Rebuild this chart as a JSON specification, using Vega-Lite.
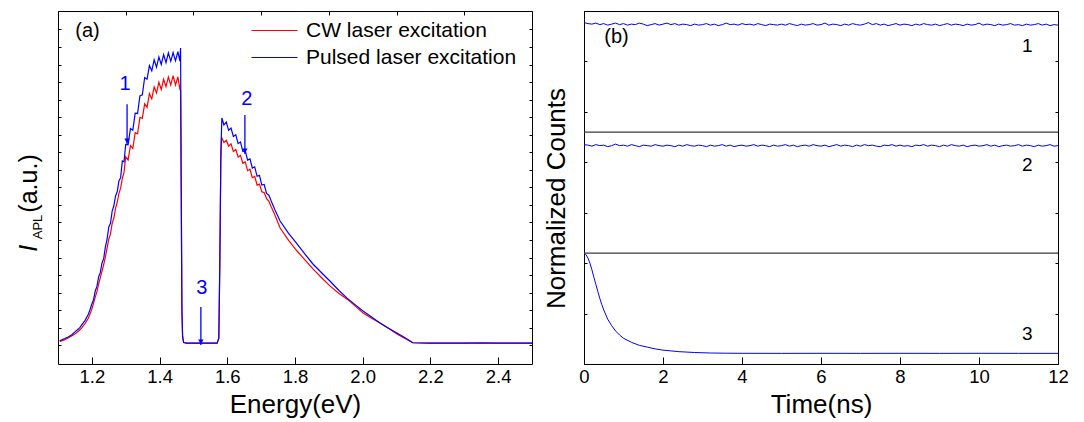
{
"$schema":"https://vega.github.io/schema/vega-lite/v6.json",
"background":"white",
"padding":{"left":16,"top":10,"right":10,"bottom":2},
"spacing":10,
"config":{"font":"Liberation Sans","view":{"stroke":"#000","strokeWidth":1},
"axis":{"grid":false,"domain":false,"labelColor":"#000","titleColor":"#000","titleFontWeight":"normal","labelFont":"Liberation Sans","titleFont":"Liberation Sans","tickColor":"#000","labelOverlap":false,"labelFlush":false}},
"datasets":{
"spec":[
{"s":"CW laser excitation","e":1.105,"v":0.22},{"s":"CW laser excitation","e":1.11,"v":0.25},{"s":"CW laser excitation","e":1.12,"v":0.32},{"s":"CW laser excitation","e":1.13,"v":0.41},{"s":"CW laser excitation","e":1.14,"v":0.52},{"s":"CW laser excitation","e":1.15,"v":0.64},{"s":"CW laser excitation","e":1.16,"v":0.8},{"s":"CW laser excitation","e":1.17,"v":0.99},{"s":"CW laser excitation","e":1.18,"v":1.25},{"s":"CW laser excitation","e":1.19,"v":1.55},{"s":"CW laser excitation","e":1.195,"v":1.8},{"s":"CW laser excitation","e":1.2,"v":2.06},{"s":"CW laser excitation","e":1.205,"v":2.4},{"s":"CW laser excitation","e":1.21,"v":2.74},{"s":"CW laser excitation","e":1.215,"v":3.05},{"s":"CW laser excitation","e":1.22,"v":3.48},{"s":"CW laser excitation","e":1.225,"v":3.85},{"s":"CW laser excitation","e":1.23,"v":4.22},{"s":"CW laser excitation","e":1.235,"v":4.6},{"s":"CW laser excitation","e":1.24,"v":5.03},{"s":"CW laser excitation","e":1.245,"v":5.55},{"s":"CW laser excitation","e":1.25,"v":6.05},{"s":"CW laser excitation","e":1.255,"v":6.35},{"s":"CW laser excitation","e":1.26,"v":6.95},{"s":"CW laser excitation","e":1.265,"v":7.25},{"s":"CW laser excitation","e":1.27,"v":7.8},{"s":"CW laser excitation","e":1.275,"v":8.15},{"s":"CW laser excitation","e":1.28,"v":8.66},{"s":"CW laser excitation","e":1.285,"v":8.95},{"s":"CW laser excitation","e":1.29,"v":9.51},{"s":"CW laser excitation","e":1.295,"v":9.85},
{"s":"CW laser excitation","e":1.3,"v":10.74},{"s":"CW laser excitation","e":1.307,"v":10.56},{"s":"CW laser excitation","e":1.314,"v":11.38},{"s":"CW laser excitation","e":1.321,"v":11.22},{"s":"CW laser excitation","e":1.328,"v":12.12},{"s":"CW laser excitation","e":1.335,"v":12.05},{"s":"CW laser excitation","e":1.342,"v":12.99},{"s":"CW laser excitation","e":1.349,"v":12.93},{"s":"CW laser excitation","e":1.356,"v":13.76},{"s":"CW laser excitation","e":1.363,"v":13.56},{"s":"CW laser excitation","e":1.37,"v":14.34},{"s":"CW laser excitation","e":1.377,"v":14.04},{"s":"CW laser excitation","e":1.384,"v":14.72},{"s":"CW laser excitation","e":1.391,"v":14.38},{"s":"CW laser excitation","e":1.398,"v":14.99},{"s":"CW laser excitation","e":1.405,"v":14.58},{"s":"CW laser excitation","e":1.412,"v":15.16},{"s":"CW laser excitation","e":1.419,"v":14.74},{"s":"CW laser excitation","e":1.426,"v":15.29},{"s":"CW laser excitation","e":1.433,"v":14.83},{"s":"CW laser excitation","e":1.44,"v":15.37},{"s":"CW laser excitation","e":1.447,"v":14.83},{"s":"CW laser excitation","e":1.454,"v":15.29},{"s":"CW laser excitation","e":1.46,"v":14.6},{"s":"CW laser excitation","e":1.462,"v":14.5},{"s":"CW laser excitation","e":1.464,"v":8.5},{"s":"CW laser excitation","e":1.466,"v":2},{"s":"CW laser excitation","e":1.468,"v":0.5},{"s":"CW laser excitation","e":1.471,"v":0.15},{"s":"CW laser excitation","e":1.48,"v":0.12},{"s":"CW laser excitation","e":1.51,"v":0.12},{"s":"CW laser excitation","e":1.54,"v":0.12},{"s":"CW laser excitation","e":1.57,"v":0.12},{"s":"CW laser excitation","e":1.575,"v":0.4},{"s":"CW laser excitation","e":1.578,"v":4.5},{"s":"CW laser excitation","e":1.581,"v":10.5},{"s":"CW laser excitation","e":1.583,"v":11.85},
{"s":"CW laser excitation","e":1.59,"v":11.55},{"s":"CW laser excitation","e":1.597,"v":11.68},{"s":"CW laser excitation","e":1.604,"v":11.35},{"s":"CW laser excitation","e":1.611,"v":11.48},{"s":"CW laser excitation","e":1.618,"v":11.05},{"s":"CW laser excitation","e":1.625,"v":11.16},{"s":"CW laser excitation","e":1.632,"v":10.73},{"s":"CW laser excitation","e":1.639,"v":10.82},{"s":"CW laser excitation","e":1.646,"v":10.37},{"s":"CW laser excitation","e":1.653,"v":10.45},{"s":"CW laser excitation","e":1.66,"v":9.95},{"s":"CW laser excitation","e":1.667,"v":10.03},{"s":"CW laser excitation","e":1.674,"v":9.55},{"s":"CW laser excitation","e":1.681,"v":9.62},{"s":"CW laser excitation","e":1.688,"v":9.12},{"s":"CW laser excitation","e":1.695,"v":9.18},{"s":"CW laser excitation","e":1.702,"v":8.75},{"s":"CW laser excitation","e":1.709,"v":8.7},{"s":"CW laser excitation","e":1.716,"v":8.35},{"s":"CW laser excitation","e":1.723,"v":8.2},{"s":"CW laser excitation","e":1.73,"v":7.88},{"s":"CW laser excitation","e":1.74,"v":7.45},{"s":"CW laser excitation","e":1.756,"v":6.68},{"s":"CW laser excitation","e":1.78,"v":6},{"s":"CW laser excitation","e":1.806,"v":5.37},{"s":"CW laser excitation","e":1.83,"v":4.85},{"s":"CW laser excitation","e":1.853,"v":4.35},{"s":"CW laser excitation","e":1.88,"v":3.82},{"s":"CW laser excitation","e":1.903,"v":3.38},{"s":"CW laser excitation","e":1.93,"v":2.95},{"s":"CW laser excitation","e":1.953,"v":2.64},{"s":"CW laser excitation","e":1.98,"v":2.2},{"s":"CW laser excitation","e":2.001,"v":1.84},{"s":"CW laser excitation","e":2.025,"v":1.55},{"s":"CW laser excitation","e":2.051,"v":1.27},{"s":"CW laser excitation","e":2.075,"v":0.98},{"s":"CW laser excitation","e":2.101,"v":0.64},{"s":"CW laser excitation","e":2.125,"v":0.38},{"s":"CW laser excitation","e":2.148,"v":0.14},{"s":"CW laser excitation","e":2.2,"v":0.12},{"s":"CW laser excitation","e":2.3,"v":0.12},{"s":"CW laser excitation","e":2.35,"v":0.14},{"s":"CW laser excitation","e":2.4,"v":0.12},{"s":"CW laser excitation","e":2.5,"v":0.12},
{"s":"Pulsed laser excitation","e":1.105,"v":0.25},{"s":"Pulsed laser excitation","e":1.11,"v":0.3},{"s":"Pulsed laser excitation","e":1.12,"v":0.38},{"s":"Pulsed laser excitation","e":1.13,"v":0.47},{"s":"Pulsed laser excitation","e":1.14,"v":0.58},{"s":"Pulsed laser excitation","e":1.15,"v":0.76},{"s":"Pulsed laser excitation","e":1.16,"v":0.92},{"s":"Pulsed laser excitation","e":1.165,"v":1.02},{"s":"Pulsed laser excitation","e":1.17,"v":1.16},{"s":"Pulsed laser excitation","e":1.18,"v":1.42},{"s":"Pulsed laser excitation","e":1.19,"v":1.78},{"s":"Pulsed laser excitation","e":1.195,"v":2.05},{"s":"Pulsed laser excitation","e":1.2,"v":2.35},{"s":"Pulsed laser excitation","e":1.205,"v":2.6},{"s":"Pulsed laser excitation","e":1.21,"v":3.09},{"s":"Pulsed laser excitation","e":1.215,"v":3.35},{"s":"Pulsed laser excitation","e":1.22,"v":3.89},{"s":"Pulsed laser excitation","e":1.225,"v":4.15},{"s":"Pulsed laser excitation","e":1.23,"v":4.69},{"s":"Pulsed laser excitation","e":1.235,"v":4.95},{"s":"Pulsed laser excitation","e":1.24,"v":5.6},{"s":"Pulsed laser excitation","e":1.245,"v":6.05},{"s":"Pulsed laser excitation","e":1.25,"v":6.74},{"s":"Pulsed laser excitation","e":1.255,"v":6.95},{"s":"Pulsed laser excitation","e":1.26,"v":7.65},{"s":"Pulsed laser excitation","e":1.265,"v":7.95},{"s":"Pulsed laser excitation","e":1.27,"v":8.51},{"s":"Pulsed laser excitation","e":1.275,"v":8.75},{"s":"Pulsed laser excitation","e":1.28,"v":9.36},{"s":"Pulsed laser excitation","e":1.285,"v":9.55},{"s":"Pulsed laser excitation","e":1.29,"v":10.5},{"s":"Pulsed laser excitation","e":1.295,"v":10.45},
{"s":"Pulsed laser excitation","e":1.3,"v":11.44},{"s":"Pulsed laser excitation","e":1.307,"v":11.42},{"s":"Pulsed laser excitation","e":1.314,"v":12.35},{"s":"Pulsed laser excitation","e":1.321,"v":12.26},{"s":"Pulsed laser excitation","e":1.328,"v":13.23},{"s":"Pulsed laser excitation","e":1.335,"v":13.21},{"s":"Pulsed laser excitation","e":1.342,"v":14.21},{"s":"Pulsed laser excitation","e":1.349,"v":14.27},{"s":"Pulsed laser excitation","e":1.356,"v":15.26},{"s":"Pulsed laser excitation","e":1.363,"v":15.16},{"s":"Pulsed laser excitation","e":1.37,"v":15.94},{"s":"Pulsed laser excitation","e":1.377,"v":15.64},{"s":"Pulsed laser excitation","e":1.384,"v":16.27},{"s":"Pulsed laser excitation","e":1.391,"v":15.85},{"s":"Pulsed laser excitation","e":1.398,"v":16.43},{"s":"Pulsed laser excitation","e":1.405,"v":16},{"s":"Pulsed laser excitation","e":1.412,"v":16.57},{"s":"Pulsed laser excitation","e":1.419,"v":16.11},{"s":"Pulsed laser excitation","e":1.426,"v":16.66},{"s":"Pulsed laser excitation","e":1.433,"v":16.18},{"s":"Pulsed laser excitation","e":1.44,"v":16.68},{"s":"Pulsed laser excitation","e":1.447,"v":16.21},{"s":"Pulsed laser excitation","e":1.454,"v":16.73},{"s":"Pulsed laser excitation","e":1.46,"v":16.2},{"s":"Pulsed laser excitation","e":1.462,"v":16.94},{"s":"Pulsed laser excitation","e":1.464,"v":9},{"s":"Pulsed laser excitation","e":1.466,"v":2},{"s":"Pulsed laser excitation","e":1.468,"v":0.5},{"s":"Pulsed laser excitation","e":1.471,"v":0.15},{"s":"Pulsed laser excitation","e":1.48,"v":0.12},{"s":"Pulsed laser excitation","e":1.51,"v":0.12},{"s":"Pulsed laser excitation","e":1.54,"v":0.12},{"s":"Pulsed laser excitation","e":1.57,"v":0.12},{"s":"Pulsed laser excitation","e":1.575,"v":0.4},{"s":"Pulsed laser excitation","e":1.578,"v":5},{"s":"Pulsed laser excitation","e":1.581,"v":11},{"s":"Pulsed laser excitation","e":1.584,"v":12.95},
{"s":"Pulsed laser excitation","e":1.59,"v":12.55},{"s":"Pulsed laser excitation","e":1.597,"v":12.72},{"s":"Pulsed laser excitation","e":1.604,"v":12.25},{"s":"Pulsed laser excitation","e":1.611,"v":12.38},{"s":"Pulsed laser excitation","e":1.618,"v":11.9},{"s":"Pulsed laser excitation","e":1.625,"v":12},{"s":"Pulsed laser excitation","e":1.632,"v":11.49},{"s":"Pulsed laser excitation","e":1.639,"v":11.58},{"s":"Pulsed laser excitation","e":1.646,"v":11.04},{"s":"Pulsed laser excitation","e":1.653,"v":11.09},{"s":"Pulsed laser excitation","e":1.66,"v":10.55},{"s":"Pulsed laser excitation","e":1.667,"v":10.62},{"s":"Pulsed laser excitation","e":1.674,"v":10.1},{"s":"Pulsed laser excitation","e":1.681,"v":10.17},{"s":"Pulsed laser excitation","e":1.688,"v":9.63},{"s":"Pulsed laser excitation","e":1.695,"v":9.68},{"s":"Pulsed laser excitation","e":1.702,"v":9.13},{"s":"Pulsed laser excitation","e":1.709,"v":9.16},{"s":"Pulsed laser excitation","e":1.716,"v":8.65},{"s":"Pulsed laser excitation","e":1.723,"v":8.55},{"s":"Pulsed laser excitation","e":1.73,"v":8.2},{"s":"Pulsed laser excitation","e":1.74,"v":7.75},{"s":"Pulsed laser excitation","e":1.756,"v":7.08},{"s":"Pulsed laser excitation","e":1.78,"v":6.4},{"s":"Pulsed laser excitation","e":1.806,"v":5.77},{"s":"Pulsed laser excitation","e":1.83,"v":5.18},{"s":"Pulsed laser excitation","e":1.853,"v":4.63},{"s":"Pulsed laser excitation","e":1.88,"v":4.1},{"s":"Pulsed laser excitation","e":1.903,"v":3.66},{"s":"Pulsed laser excitation","e":1.93,"v":3.12},{"s":"Pulsed laser excitation","e":1.953,"v":2.7},{"s":"Pulsed laser excitation","e":1.98,"v":2.27},{"s":"Pulsed laser excitation","e":2.001,"v":1.95},{"s":"Pulsed laser excitation","e":2.025,"v":1.62},{"s":"Pulsed laser excitation","e":2.051,"v":1.27},{"s":"Pulsed laser excitation","e":2.075,"v":0.98},{"s":"Pulsed laser excitation","e":2.101,"v":0.7},{"s":"Pulsed laser excitation","e":2.125,"v":0.42},{"s":"Pulsed laser excitation","e":2.148,"v":0.14},{"s":"Pulsed laser excitation","e":2.2,"v":0.12},{"s":"Pulsed laser excitation","e":2.3,"v":0.12},{"s":"Pulsed laser excitation","e":2.4,"v":0.12},{"s":"Pulsed laser excitation","e":2.5,"v":0.12}
],
"arrows":[{"n":"1","e":1.304,"top":13.74,"bot":11.47},{"n":"2","e":1.652,"top":13.12,"bot":10.9},{"n":"3","e":1.522,"top":2.18,"bot":0.02}],
"annL":[{"n":"1","e":1.298,"v":14.9},{"n":"2","e":1.658,"v":14.03},{"n":"3","e":1.525,"v":3.27}],
"decay":[
{"k":"1","t":0,"c":6.77},{"k":"1","t":0.1,"c":6.75},{"k":"1","t":0.2,"c":6.74},{"k":"1","t":0.3,"c":6.76},{"k":"1","t":0.4,"c":6.73},{"k":"1","t":0.5,"c":6.75},{"k":"1","t":0.6,"c":6.72},{"k":"1","t":0.7,"c":6.74},{"k":"1","t":0.8,"c":6.76},{"k":"1","t":0.9,"c":6.73},
{"k":"1","t":1,"c":6.75},{"k":"1","t":1.1,"c":6.72},{"k":"1","t":1.2,"c":6.74},{"k":"1","t":1.3,"c":6.73},{"k":"1","t":1.4,"c":6.76},{"k":"1","t":1.5,"c":6.74},{"k":"1","t":1.6,"c":6.71},{"k":"1","t":1.7,"c":6.73},{"k":"1","t":1.8,"c":6.75},{"k":"1","t":1.9,"c":6.72},
{"k":"1","t":2,"c":6.74},{"k":"1","t":2.1,"c":6.76},{"k":"1","t":2.2,"c":6.73},{"k":"1","t":2.3,"c":6.75},{"k":"1","t":2.4,"c":6.72},{"k":"1","t":2.5,"c":6.74},{"k":"1","t":2.6,"c":6.73},{"k":"1","t":2.7,"c":6.71},{"k":"1","t":2.8,"c":6.74},{"k":"1","t":2.9,"c":6.72},
{"k":"1","t":3,"c":6.73},{"k":"1","t":3.1,"c":6.75},{"k":"1","t":3.2,"c":6.72},{"k":"1","t":3.3,"c":6.74},{"k":"1","t":3.4,"c":6.71},{"k":"1","t":3.5,"c":6.73},{"k":"1","t":3.6,"c":6.76},{"k":"1","t":3.7,"c":6.73},{"k":"1","t":3.8,"c":6.74},{"k":"1","t":3.9,"c":6.72},
{"k":"1","t":4,"c":6.75},{"k":"1","t":4.1,"c":6.73},{"k":"1","t":4.2,"c":6.74},{"k":"1","t":4.3,"c":6.72},{"k":"1","t":4.4,"c":6.75},{"k":"1","t":4.5,"c":6.73},{"k":"1","t":4.6,"c":6.71},{"k":"1","t":4.7,"c":6.74},{"k":"1","t":4.8,"c":6.73},{"k":"1","t":4.9,"c":6.72},
{"k":"1","t":5,"c":6.74},{"k":"1","t":5.1,"c":6.72},{"k":"1","t":5.2,"c":6.75},{"k":"1","t":5.3,"c":6.73},{"k":"1","t":5.4,"c":6.71},{"k":"1","t":5.5,"c":6.74},{"k":"1","t":5.6,"c":6.72},{"k":"1","t":5.7,"c":6.73},{"k":"1","t":5.8,"c":6.75},{"k":"1","t":5.9,"c":6.72},
{"k":"1","t":6,"c":6.73},{"k":"1","t":6.1,"c":6.76},{"k":"1","t":6.2,"c":6.72},{"k":"1","t":6.3,"c":6.74},{"k":"1","t":6.4,"c":6.73},{"k":"1","t":6.5,"c":6.71},{"k":"1","t":6.6,"c":6.74},{"k":"1","t":6.7,"c":6.72},{"k":"1","t":6.8,"c":6.75},{"k":"1","t":6.9,"c":6.73},
{"k":"1","t":7,"c":6.72},{"k":"1","t":7.1,"c":6.74},{"k":"1","t":7.2,"c":6.77},{"k":"1","t":7.3,"c":6.73},{"k":"1","t":7.4,"c":6.75},{"k":"1","t":7.5,"c":6.72},{"k":"1","t":7.6,"c":6.74},{"k":"1","t":7.7,"c":6.71},{"k":"1","t":7.8,"c":6.73},{"k":"1","t":7.9,"c":6.75},
{"k":"1","t":8,"c":6.72},{"k":"1","t":8.1,"c":6.74},{"k":"1","t":8.2,"c":6.73},{"k":"1","t":8.3,"c":6.71},{"k":"1","t":8.4,"c":6.74},{"k":"1","t":8.5,"c":6.72},{"k":"1","t":8.6,"c":6.75},{"k":"1","t":8.7,"c":6.73},{"k":"1","t":8.8,"c":6.72},{"k":"1","t":8.9,"c":6.74},
{"k":"1","t":9,"c":6.71},{"k":"1","t":9.1,"c":6.73},{"k":"1","t":9.2,"c":6.75},{"k":"1","t":9.3,"c":6.72},{"k":"1","t":9.4,"c":6.74},{"k":"1","t":9.5,"c":6.73},{"k":"1","t":9.6,"c":6.71},{"k":"1","t":9.7,"c":6.74},{"k":"1","t":9.8,"c":6.72},{"k":"1","t":9.9,"c":6.73},
{"k":"1","t":10,"c":6.76},{"k":"1","t":10.1,"c":6.72},{"k":"1","t":10.2,"c":6.74},{"k":"1","t":10.3,"c":6.73},{"k":"1","t":10.4,"c":6.71},{"k":"1","t":10.5,"c":6.74},{"k":"1","t":10.6,"c":6.72},{"k":"1","t":10.7,"c":6.73},{"k":"1","t":10.8,"c":6.75},{"k":"1","t":10.9,"c":6.72},
{"k":"1","t":11,"c":6.73},{"k":"1","t":11.1,"c":6.71},{"k":"1","t":11.2,"c":6.74},{"k":"1","t":11.3,"c":6.72},{"k":"1","t":11.4,"c":6.73},{"k":"1","t":11.5,"c":6.75},{"k":"1","t":11.6,"c":6.72},{"k":"1","t":11.7,"c":6.74},{"k":"1","t":11.8,"c":6.71},{"k":"1","t":11.9,"c":6.73},{"k":"1","t":12,"c":6.72},
{"k":"2","t":0,"c":4.35},{"k":"2","t":0.1,"c":4.34},{"k":"2","t":0.2,"c":4.32},{"k":"2","t":0.3,"c":4.35},{"k":"2","t":0.4,"c":4.33},{"k":"2","t":0.5,"c":4.34},{"k":"2","t":0.6,"c":4.31},{"k":"2","t":0.7,"c":4.33},{"k":"2","t":0.8,"c":4.36},{"k":"2","t":0.9,"c":4.33},
{"k":"2","t":1,"c":4.34},{"k":"2","t":1.1,"c":4.32},{"k":"2","t":1.2,"c":4.35},{"k":"2","t":1.3,"c":4.33},{"k":"2","t":1.4,"c":4.31},{"k":"2","t":1.5,"c":4.34},{"k":"2","t":1.6,"c":4.33},{"k":"2","t":1.7,"c":4.32},{"k":"2","t":1.8,"c":4.35},{"k":"2","t":1.9,"c":4.33},
{"k":"2","t":2,"c":4.32},{"k":"2","t":2.1,"c":4.34},{"k":"2","t":2.2,"c":4.33},{"k":"2","t":2.3,"c":4.31},{"k":"2","t":2.4,"c":4.34},{"k":"2","t":2.5,"c":4.32},{"k":"2","t":2.6,"c":4.35},{"k":"2","t":2.7,"c":4.33},{"k":"2","t":2.8,"c":4.32},{"k":"2","t":2.9,"c":4.34},
{"k":"2","t":3,"c":4.33},{"k":"2","t":3.1,"c":4.31},{"k":"2","t":3.2,"c":4.34},{"k":"2","t":3.3,"c":4.32},{"k":"2","t":3.4,"c":4.33},{"k":"2","t":3.5,"c":4.35},{"k":"2","t":3.6,"c":4.32},{"k":"2","t":3.7,"c":4.34},{"k":"2","t":3.8,"c":4.31},{"k":"2","t":3.9,"c":4.33},
{"k":"2","t":4,"c":4.34},{"k":"2","t":4.1,"c":4.32},{"k":"2","t":4.2,"c":4.33},{"k":"2","t":4.3,"c":4.35},{"k":"2","t":4.4,"c":4.32},{"k":"2","t":4.5,"c":4.34},{"k":"2","t":4.6,"c":4.33},{"k":"2","t":4.7,"c":4.31},{"k":"2","t":4.8,"c":4.34},{"k":"2","t":4.9,"c":4.32},
{"k":"2","t":5,"c":4.33},{"k":"2","t":5.1,"c":4.35},{"k":"2","t":5.2,"c":4.32},{"k":"2","t":5.3,"c":4.34},{"k":"2","t":5.4,"c":4.31},{"k":"2","t":5.5,"c":4.33},{"k":"2","t":5.6,"c":4.34},{"k":"2","t":5.7,"c":4.32},{"k":"2","t":5.8,"c":4.35},{"k":"2","t":5.9,"c":4.33},
{"k":"2","t":6,"c":4.32},{"k":"2","t":6.1,"c":4.34},{"k":"2","t":6.2,"c":4.31},{"k":"2","t":6.3,"c":4.33},{"k":"2","t":6.4,"c":4.35},{"k":"2","t":6.5,"c":4.32},{"k":"2","t":6.6,"c":4.34},{"k":"2","t":6.7,"c":4.33},{"k":"2","t":6.8,"c":4.31},{"k":"2","t":6.9,"c":4.34},
{"k":"2","t":7,"c":4.32},{"k":"2","t":7.1,"c":4.35},{"k":"2","t":7.2,"c":4.33},{"k":"2","t":7.3,"c":4.34},{"k":"2","t":7.4,"c":4.32},{"k":"2","t":7.5,"c":4.31},{"k":"2","t":7.6,"c":4.34},{"k":"2","t":7.7,"c":4.33},{"k":"2","t":7.8,"c":4.35},{"k":"2","t":7.9,"c":4.32},
{"k":"2","t":8,"c":4.34},{"k":"2","t":8.1,"c":4.32},{"k":"2","t":8.2,"c":4.33},{"k":"2","t":8.3,"c":4.31},{"k":"2","t":8.4,"c":4.34},{"k":"2","t":8.5,"c":4.33},{"k":"2","t":8.6,"c":4.35},{"k":"2","t":8.7,"c":4.32},{"k":"2","t":8.8,"c":4.34},{"k":"2","t":8.9,"c":4.33},
{"k":"2","t":9,"c":4.31},{"k":"2","t":9.1,"c":4.34},{"k":"2","t":9.2,"c":4.32},{"k":"2","t":9.3,"c":4.35},{"k":"2","t":9.4,"c":4.33},{"k":"2","t":9.5,"c":4.32},{"k":"2","t":9.6,"c":4.34},{"k":"2","t":9.7,"c":4.31},{"k":"2","t":9.8,"c":4.33},{"k":"2","t":9.9,"c":4.34},
{"k":"2","t":10,"c":4.32},{"k":"2","t":10.1,"c":4.33},{"k":"2","t":10.2,"c":4.35},{"k":"2","t":10.3,"c":4.32},{"k":"2","t":10.4,"c":4.34},{"k":"2","t":10.5,"c":4.31},{"k":"2","t":10.6,"c":4.33},{"k":"2","t":10.7,"c":4.34},{"k":"2","t":10.8,"c":4.32},{"k":"2","t":10.9,"c":4.33},
{"k":"2","t":11,"c":4.35},{"k":"2","t":11.1,"c":4.32},{"k":"2","t":11.2,"c":4.34},{"k":"2","t":11.3,"c":4.33},{"k":"2","t":11.4,"c":4.31},{"k":"2","t":11.5,"c":4.34},{"k":"2","t":11.6,"c":4.32},{"k":"2","t":11.7,"c":4.33},{"k":"2","t":11.8,"c":4.35},{"k":"2","t":11.9,"c":4.32},{"k":"2","t":12,"c":4.33},
{"k":"3","t":0,"c":2.2},{"k":"3","t":0.05,"c":2.17},{"k":"3","t":0.1,"c":2.1},{"k":"3","t":0.15,"c":2.0},{"k":"3","t":0.2,"c":1.87},{"k":"3","t":0.25,"c":1.72},{"k":"3","t":0.3,"c":1.58},{"k":"3","t":0.35,"c":1.44},{"k":"3","t":0.4,"c":1.3},{"k":"3","t":0.45,"c":1.18},{"k":"3","t":0.5,"c":1.07},{"k":"3","t":0.6,"c":0.89},{"k":"3","t":0.7,"c":0.76},{"k":"3","t":0.8,"c":0.655},{"k":"3","t":0.9,"c":0.575},{"k":"3","t":1,"c":0.51},{"k":"3","t":1.2,"c":0.43},{"k":"3","t":1.4,"c":0.37},{"k":"3","t":1.6,"c":0.335},{"k":"3","t":1.8,"c":0.3},{"k":"3","t":2,"c":0.275},{"k":"3","t":2.4,"c":0.245},{"k":"3","t":2.8,"c":0.228},{"k":"3","t":3.2,"c":0.218},{"k":"3","t":3.6,"c":0.214},{"k":"3","t":4,"c":0.212},{"k":"3","t":5,"c":0.211},{"k":"3","t":6,"c":0.212},{"k":"3","t":7,"c":0.211},{"k":"3","t":8,"c":0.212},{"k":"3","t":9,"c":0.211},{"k":"3","t":10,"c":0.212},{"k":"3","t":11,"c":0.211},{"k":"3","t":12,"c":0.211}
],
"sep":[{"y":4.6},{"y":2.2}],
"annR":[{"n":"1","t":11.22,"c":6.31},{"n":"2","t":11.22,"c":3.95},{"n":"3","t":11.22,"c":0.6}]
},
"hconcat":[
{"width":474,"height":353,
"resolve":{"axis":{"y":"independent","x":"independent"}},
"layer":[
{"data":{"name":"spec"},"mark":{"type":"line","strokeWidth":1.2,"clip":true},
"encoding":{
"x":{"field":"e","type":"quantitative","scale":{"domain":[1.1,2.5],"nice":false,"zero":false},
"axis":{"values":[1.2,1.4,1.6,1.8,2.0,2.2,2.4],"format":".1f","tickSize":-7,"labelFontSize":18.5,"labelPadding":10,"title":"Energy(eV)","titleFontSize":26,"titlePadding":6}},
"y":{"field":"v","type":"quantitative","scale":{"domain":[-1.07,19.05],"nice":false,"zero":false},"axis":{"values":[0,1,2,3,4,5,6,7,8,9,10,11,12,13,14,15,16,17,18],"labels":false,"tickSize":-3,"title":null}},
"color":{"field":"s","type":"nominal","scale":{"domain":["CW laser excitation","Pulsed laser excitation"],"range":["#ff0000","#0000ff"]},
"legend":{"orient":"none","legendX":206,"legendY":9,"title":null,"symbolType":"M-4.6,0H4.6","symbolSize":100,"symbolStrokeWidth":1.2,"labelFontSize":21,"labelFont":"Liberation Sans","labelColor":"#000","labelOffset":21,"rowPadding":5,"padding":0,"labelLimit":400}}}},
{"data":{"name":"arrows"},"mark":{"type":"rule","color":"#0000ff","strokeWidth":1.3},
"encoding":{"x":{"field":"e","type":"quantitative","axis":{"values":[1.1,1.3,1.5,1.7,1.9,2.1,2.3,2.5],"labels":false,"tickSize":-4,"title":null}},"y":{"field":"top","type":"quantitative","axis":{"orient":"right","values":[0,1,2,3,4,5,6,7,8,9,10,11,12,13,14,15,16,17,18],"labels":false,"tickSize":-3,"title":null}},"y2":{"field":"bot"}}},
{"data":{"name":"arrows"},"mark":{"type":"point","shape":"triangle-down","filled":true,"size":30,"color":"#0000ff","opacity":1,"yOffset":-3},
"encoding":{"x":{"field":"e","type":"quantitative","axis":null},"y":{"field":"bot","type":"quantitative","axis":null}}},
{"data":{"name":"annL"},"mark":{"type":"text","color":"#0000ff","fontSize":20,"align":"center","baseline":"middle"},
"encoding":{"x":{"field":"e","type":"quantitative","axis":null},"y":{"field":"v","type":"quantitative","axis":null},"text":{"field":"n"}}},
{"data":{"values":[{}]},"mark":{"type":"text","text":"(a)","fontSize":20,"color":"#000","align":"center","baseline":"middle"},
"encoding":{"x":{"datum":1.187,"axis":null},"y":{"datum":17.91,"axis":null}}},
{"data":{"values":[{}]},"mark":{"type":"text","text":"(a.u.)","fontSize":25,"color":"#000","angle":270,"align":"center","baseline":"middle"},
"encoding":{"x":{"datum":1.0144,"axis":null},"y":{"datum":9.22,"axis":null}}},
{"data":{"values":[{}]},"mark":{"type":"text","text":"I","fontSize":25,"fontStyle":"italic","color":"#000","angle":270,"align":"center","baseline":"middle"},
"encoding":{"x":{"datum":1.0144,"axis":null},"y":{"datum":5.52,"axis":null}}},
{"data":{"values":[{}]},"mark":{"type":"text","text":"APL","fontSize":13,"color":"#000","angle":270,"align":"center","baseline":"middle"},
"encoding":{"x":{"datum":1.041,"axis":null},"y":{"datum":6.74,"axis":null}}}
]},
{"width":474,"height":353,
"resolve":{"axis":{"y":"independent"}},
"layer":[
{"data":{"name":"decay"},"mark":{"type":"line","strokeWidth":1,"color":"#0000ff","clip":true},
"encoding":{
"x":{"field":"t","type":"quantitative","scale":{"domain":[0,12],"nice":false,"zero":false},
"axis":{"values":[0,1,2,3,4,5,6,7,8,9,10,11,12],"format":"d","labelExpr":"datum.value%2==0 ? datum.label : ''","tickSize":{"condition":{"test":"datum.value%2==0","value":-7},"value":-4},"labelFontSize":18.5,"labelPadding":10,"title":"Time(ns)","titleFontSize":26,"titlePadding":6}},
"y":{"field":"c","type":"quantitative","scale":{"domain":[0,7],"nice":false,"zero":false},"axis":{"values":[0,1,2,3,4,5,6,7],"labels":false,"tickSize":-3,"title":"Normalized Counts","titleFontSize":26,"titlePadding":14,"titleY":187}},
"detail":{"field":"k"}}},
{"data":{"name":"sep"},"mark":{"type":"rule","color":"#3a3a3a","strokeWidth":1.2},
"encoding":{"y":{"field":"y","type":"quantitative","axis":{"orient":"right","values":[0,1,2,3,4,5,6,7],"labels":false,"tickSize":-3,"title":null}}}},
{"data":{"name":"annR"},"mark":{"type":"text","color":"#000","fontSize":19,"align":"center","baseline":"middle"},
"encoding":{"x":{"field":"t","type":"quantitative"},"y":{"field":"c","type":"quantitative","axis":null},"text":{"field":"n"}}},
{"data":{"values":[{}]},"mark":{"type":"text","text":"(b)","fontSize":20,"color":"#000","align":"center","baseline":"middle"},
"encoding":{"x":{"datum":0.823},"y":{"datum":6.48,"axis":null}}}
]}
]
}
